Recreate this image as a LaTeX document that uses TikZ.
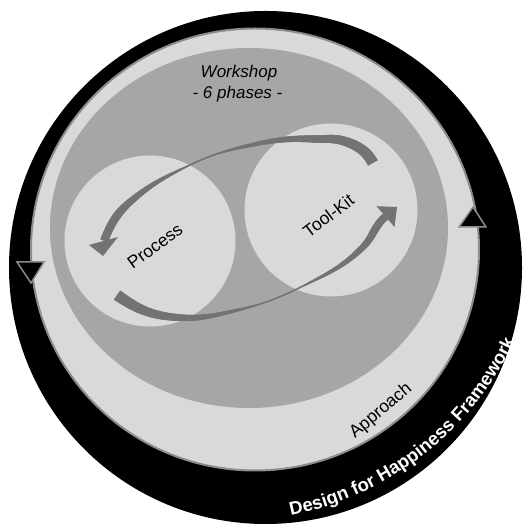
\documentclass[tikz,border=0pt]{standalone}
\usepackage{fontspec}
\setmainfont{Liberation Sans}
\usetikzlibrary{decorations.text,decorations.markings}
\definecolor{palegray}{HTML}{D9D9D9}
\definecolor{midgray}{HTML}{A6A6A6}
\definecolor{edgegray}{HTML}{8C8C8C}
\definecolor{swooshgray}{HTML}{737373}
\newcommand\dfhfont{\bfseries\fontsize{18.5}{20}\selectfont}

% fraction of the decorated path already covered by the current mark
\newcommand\markfrac{\pgfkeysvalueof{/pgf/decoration/mark info/distance from start}/\pgfdecoratedpathlength}

\begin{document}
\begin{tikzpicture}[x=1pt,y=1pt,
  lbl/.style={font=\fontsize{17.5}{20}\selectfont, inner sep=0pt},
  marker/.style={fill=black, draw=edgegray, line width=1.5pt, line join=miter},
  % tapered band: #1 = half-width as a function of \f (0 at tail, 1 at head)
  swoosh/.style={decorate, decoration={markings,
    mark=between positions 0.002 and 0.998 step 0.5pt with {
      \pgfmathsetmacro\f{\markfrac}
      \pgfmathsetmacro\hw{#1}
      \fill[swooshgray] (-0.6pt,-\hw pt) rectangle (0.6pt,\hw pt);}}},
  head/.style={fill=swooshgray}]
\useasboundingbox (0,0) rectangle (528,532);
\fill[white] (0,0) rectangle (528,532);

% framework ring, approach ring, workshop area
\fill[black] (265.5,264.5) circle[radius=256.5];
\filldraw[fill=palegray, draw=edgegray, line width=2pt] (255,282.5) ellipse[x radius=224, y radius=221];
\fill[midgray] (249,304) ellipse[x radius=199, y radius=180];

% process and tool-kit discs
\fill[palegray] (150,291) circle[radius=85.5];
\fill[palegray] (331,322) circle[radius=86.5];

% upper arrow: tool-kit -> process
\coordinate (ut) at (373,369);
\coordinate (uh) at (104,291);
\path[swoosh={0.5*max(11-18*\f, min(1.3+25*(\f-0.631),8), 1.2)}]
  (ut) to[out=119,in=340] (347,390) to[out=160,in=358] (313,393)
  to[out=178,in=12.6] (247,386) to[out=192.6,in=25.6] (190,367)
  to[out=205.6,in=40.7] (130,330) to[out=220.7,in=68] (uh);
\fill[head] (89,287) -- (103,276) -- (118,295) -- cycle;

% lower arrow: process -> tool-kit
\coordinate (lt) at (117,237);
\coordinate (lh) at (385.5,315.4);
\path[swoosh={0.5*max(11-20*\f, min(1.7+21*(\f-0.659),7.5), 1.2)}]
  (lt) to[out=-35,in=174] (172,215) to[out=-6,in=193.4] (238,222)
  to[out=13.4,in=206.6] (305,247) to[out=26.6,in=225] (363,285)
  to[out=45,in=220] (lh);
\fill[head] (376.5,325.8) -- (397,325) -- (394.5,305) -- cycle;

% direction markers on the approach ring
\draw[marker] (17,270) -- (44,270) -- (31,249) -- cycle;
\draw[marker] (473,325) -- (459,305) -- (486,305) -- cycle;

% labels
\node[lbl, font=\itshape\fontsize{17}{20}\selectfont, anchor=base] (workshop) at (239,454) {Workshop};
\node[lbl, font=\itshape\fontsize{17}{20}\selectfont, anchor=base] (phases) at (237.5,433) {- 6 phases -};
\node[lbl, rotate=36] (process) at (155,286) {Process};
\node[lbl, rotate=37] (toolkit) at (328.5,316.5) {Tool-Kit};
\node[lbl, rotate=40] (approach) at (381,121) {Approach};

% framework title along the outer ring
\path[decorate, decoration={text along path, text color=white,
    text={|\dfhfont|Design for Happiness Framework}, text align=center}]
  ([shift={(-92:318)}]228,328) arc[start angle=-92, end angle=-12.2, radius=318];
\end{tikzpicture}
\end{document}
